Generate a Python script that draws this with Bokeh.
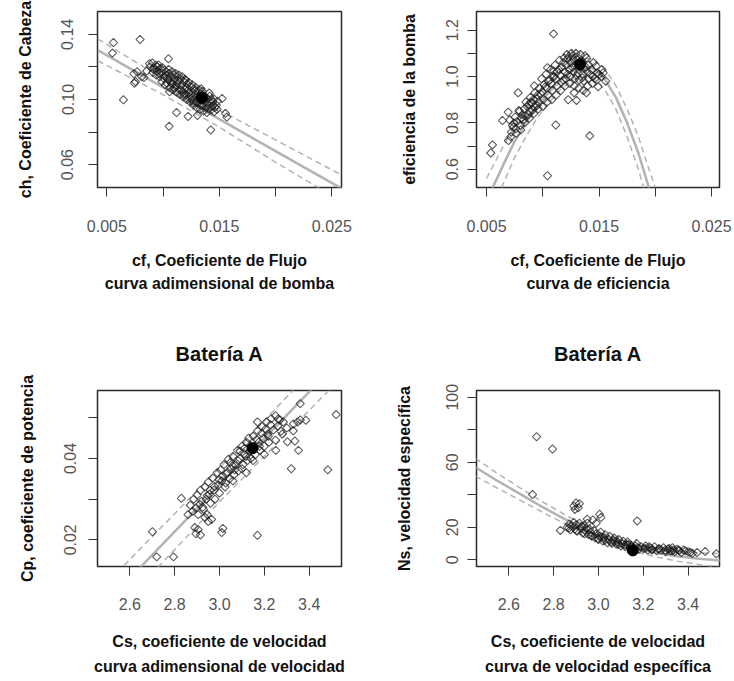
import math
from bokeh.plotting import figure
from bokeh.layouts import column, row
from bokeh.models import FixedTicker, Range1d, LinearAxis
from bokeh.embed import file_html
from bokeh.resources import INLINE

# ---------------- data ----------------
# Panel 1: head coefficient vs flow coefficient
cf_head = [
    0.00559, 0.00796, 0.00550, 0.00648, 0.00740, 0.00770, 0.00745, 0.00755, 0.00830, 0.00810,
    0.00855, 0.01048, 0.01054, 0.01120, 0.01223, 0.01306, 0.01424, 0.01525, 0.01567, 0.01555,
    0.00880, 0.00885, 0.00905, 0.00915, 0.00910, 0.00935, 0.00945, 0.00940, 0.00950, 0.00965,
    0.00975, 0.00970, 0.00985, 0.00995, 0.01005, 0.00990, 0.01010, 0.01025, 0.01035, 0.01030,
    0.01040, 0.01020, 0.01055, 0.01065, 0.01060, 0.01070, 0.01050, 0.01085, 0.01095, 0.01090,
    0.01100, 0.01080, 0.01115, 0.01125, 0.01120, 0.01130, 0.01110, 0.01145, 0.01155, 0.01150,
    0.01160, 0.01140, 0.01175, 0.01185, 0.01180, 0.01190, 0.01170, 0.01205, 0.01215, 0.01210,
    0.01220, 0.01200, 0.01235, 0.01245, 0.01240, 0.01250, 0.01230, 0.01265, 0.01275, 0.01270,
    0.01280, 0.01260, 0.01295, 0.01305, 0.01300, 0.01310, 0.01290, 0.01325, 0.01335, 0.01330,
    0.01340, 0.01320, 0.01355, 0.01365, 0.01360, 0.01370, 0.01350, 0.01385, 0.01395, 0.01390,
    0.01400, 0.01415, 0.01425, 0.01420, 0.01430, 0.01410, 0.01445, 0.01455, 0.01450, 0.01440,
    0.01475, 0.01485, 0.01480,
    0.00920, 0.00960, 0.01012, 0.01047, 0.01078, 0.01103, 0.01133, 0.01163, 0.01187, 0.01212,
    0.01228, 0.01256, 0.01283, 0.01302, 0.01318, 0.01347, 0.01372, 0.01402, 0.01433, 0.01462,
    0.01117, 0.01058, 0.01194, 0.01338, 0.01268,
]
ch_head = [
    0.1350, 0.1369, 0.1285, 0.0998, 0.1158, 0.1170, 0.1100, 0.1110, 0.1135, 0.1140,
    0.1175, 0.1250, 0.0835, 0.0920, 0.0896, 0.0902, 0.0813, 0.1006, 0.0892, 0.0915,
    0.1220, 0.1200, 0.1225, 0.1185, 0.1165, 0.1210, 0.1175, 0.1150, 0.1200, 0.1160,
    0.1190, 0.1140, 0.1165, 0.1195, 0.1130, 0.1110, 0.1180, 0.1150, 0.1100, 0.1170,
    0.1130, 0.1090, 0.1160, 0.1110, 0.1075, 0.1140, 0.1185, 0.1095, 0.1150, 0.1060,
    0.1125, 0.1170, 0.1080, 0.1140, 0.1045, 0.1100, 0.1160, 0.1060, 0.1125, 0.1030,
    0.1085, 0.1150, 0.1045, 0.1110, 0.1015, 0.1065, 0.1140, 0.1030, 0.1095, 0.1000,
    0.1055, 0.1120, 0.1015, 0.1080, 0.0985, 0.1035, 0.1105, 0.0995, 0.1065, 0.0965,
    0.1025, 0.1090, 0.0985, 0.1050, 0.0950, 0.1005, 0.1075, 0.0970, 0.1035, 0.0940,
    0.0995, 0.1060, 0.0960, 0.1025, 0.0930, 0.0985, 0.1050, 0.0950, 0.1005, 0.0920,
    0.0970, 0.1020, 0.0935, 0.0990, 0.0955, 0.1040, 0.0985, 0.0925, 0.1005, 0.0960,
    0.0965, 0.0990, 0.0940,
    0.1195, 0.1212, 0.1142, 0.1122, 0.1098, 0.1071, 0.1117, 0.1058, 0.1032, 0.1072,
    0.1041, 0.1011, 0.1052, 0.0982, 0.1022, 0.0968, 0.1012, 0.0945, 0.0998, 0.0952,
    0.1089, 0.1047, 0.1124, 0.1066, 0.0978,
]
best_cf_head = [0.01345]
best_ch = [0.1010]
fit_cf_head = [0.0042, 0.0100, 0.0150, 0.0200, 0.0259]
fit_ch = [0.1303, 0.1075, 0.0879, 0.0683, 0.0452]
fit_ch_up = [0.1372, 0.1128, 0.0935, 0.0752, 0.0535]
fit_ch_lo = [0.1238, 0.1030, 0.0830, 0.0615, 0.0372]

# Panel 2: pump efficiency vs flow coefficient
cf_eff = [
    0.01096, 0.01042, 0.01116, 0.01418, 0.00553, 0.00538, 0.00642, 0.00693, 0.00707, 0.00737,
    0.00695, 0.00781, 0.00787, 0.00894, 0.01226, 0.01300, 0.01279, 0.01388, 0.01492, 0.01560,
    0.01537, 0.01099, 0.01042,
    0.00720, 0.00730, 0.00715, 0.00760, 0.00770, 0.00755, 0.00765, 0.00800, 0.00810, 0.00795,
    0.00805, 0.00840, 0.00845, 0.00835, 0.00850, 0.00830, 0.00880, 0.00885, 0.00875, 0.00890,
    0.00870, 0.00920, 0.00925, 0.00915, 0.00930, 0.00910, 0.00960, 0.00965, 0.00955, 0.00970,
    0.00950, 0.01000, 0.01005, 0.00995, 0.01010, 0.00990, 0.01040, 0.01045, 0.01035, 0.01050,
    0.01030, 0.01080, 0.01085, 0.01075, 0.01090, 0.01070, 0.01120, 0.01125, 0.01115, 0.01130,
    0.01110, 0.01160, 0.01165, 0.01155, 0.01170, 0.01150, 0.01200, 0.01205, 0.01195, 0.01210,
    0.01190, 0.01215, 0.01240, 0.01245, 0.01235, 0.01250, 0.01230, 0.01255, 0.01280, 0.01285,
    0.01275, 0.01290, 0.01270, 0.01295, 0.01320, 0.01325, 0.01315, 0.01330, 0.01310, 0.01335,
    0.01360, 0.01365, 0.01355, 0.01370, 0.01350, 0.01375, 0.01400, 0.01405, 0.01395, 0.01410,
    0.01390, 0.01440, 0.01445, 0.01435, 0.01450, 0.01480, 0.01485, 0.01475, 0.01520, 0.01525,
    0.00745, 0.00818, 0.00862, 0.00903, 0.00942, 0.00983, 0.01022, 0.01063, 0.01102, 0.01142,
    0.01183, 0.01222, 0.01262, 0.01302, 0.01342, 0.01382, 0.01422, 0.01462, 0.01262, 0.01222,
    0.01182, 0.01302, 0.01352, 0.01502, 0.00925,
]
eff = [
    1.184, 0.572, 0.791, 0.744, 0.705, 0.670, 0.810, 0.846, 0.812, 0.781,
    0.724, 0.930, 0.853, 0.888, 0.900, 0.897, 0.930, 0.930, 0.956, 0.980,
    1.016, 1.023, 1.038,
    0.760, 0.790, 0.740, 0.775, 0.805, 0.825, 0.755, 0.790, 0.820, 0.850,
    0.770, 0.800, 0.830, 0.860, 0.890, 0.815, 0.820, 0.850, 0.880, 0.910,
    0.835, 0.840, 0.870, 0.900, 0.930, 0.855, 0.860, 0.890, 0.920, 0.950,
    0.875, 0.870, 0.900, 0.935, 0.965, 0.990, 0.890, 0.920, 0.950, 0.980,
    1.010, 0.900, 0.940, 0.970, 1.000, 1.030, 0.920, 0.960, 0.990, 1.020,
    1.050, 0.940, 0.975, 1.005, 1.040, 1.070, 0.960, 0.990, 1.020, 1.050,
    1.080, 1.095, 0.970, 1.000, 1.030, 1.060, 1.085, 1.100, 0.960, 0.990,
    1.020, 1.050, 1.075, 1.100, 0.950, 0.985, 1.015, 1.040, 1.070, 1.095,
    0.940, 0.980, 1.010, 1.035, 1.065, 1.090, 0.960, 0.990, 1.020, 1.050,
    1.080, 0.970, 1.000, 1.030, 1.060, 0.985, 1.015, 1.045, 1.000, 1.030,
    0.800, 0.835, 0.870, 0.885, 0.905, 0.925, 0.955, 0.985, 1.000, 1.030,
    1.060, 1.075, 1.090, 1.085, 1.060, 1.040, 1.010, 0.990, 1.040, 1.010,
    0.985, 1.005, 0.995, 1.010, 0.960,
]
best_cf_eff = [0.01331]
best_eff = [1.052]
fit_cf_eff = [0.0050, 0.0056, 0.0065, 0.0075, 0.0085, 0.0095, 0.0105, 0.0115, 0.0125,
              0.0135, 0.0145, 0.0155, 0.0165, 0.0175, 0.0185, 0.0194, 0.0200]
fit_eff = [0.460, 0.526, 0.620, 0.720, 0.800, 0.870, 0.930, 0.980, 1.020,
           1.040, 1.035, 0.990, 0.910, 0.800, 0.670, 0.526, 0.430]
fit_eff_up = [0.560, 0.616, 0.700, 0.790, 0.860, 0.920, 0.975, 1.020, 1.060,
              1.080, 1.075, 1.035, 0.960, 0.860, 0.740, 0.606, 0.520]
fit_eff_lo = [0.360, 0.436, 0.540, 0.650, 0.740, 0.820, 0.885, 0.940, 0.980,
              1.000, 0.995, 0.945, 0.860, 0.740, 0.600, 0.446, 0.340]

# Panel 3: power coefficient vs speed coefficient
cs_pow = [
    3.520, 3.360, 3.169, 3.274, 3.329, 3.348, 3.385, 3.303, 3.336, 3.352,
    3.251, 3.320, 3.483, 3.169, 2.830, 2.701, 2.720, 2.795, 2.895, 2.905,
    2.915, 2.890, 3.010, 3.015, 2.935, 2.950, 2.965, 2.945,
    2.860, 2.870, 2.880, 2.885, 2.895, 2.900, 2.905, 2.915, 2.920, 2.925,
    2.935, 2.940, 2.950, 2.955, 2.960, 2.970, 2.975, 2.980, 2.990, 2.995,
    3.000, 3.005, 3.010, 3.020, 3.025, 3.030, 3.040, 3.045, 3.050, 3.060,
    3.065, 3.070, 3.080, 3.085, 3.090, 3.100, 3.105, 3.110, 3.120, 3.125,
    3.130, 3.135, 3.140, 3.150, 3.155, 3.160, 3.170, 3.175, 3.180, 3.190,
    3.195, 3.200, 3.210, 3.215, 3.220, 3.230, 3.240, 3.250, 3.260, 3.270,
    3.100, 3.150, 3.200, 3.250, 3.280, 3.300, 3.330, 3.360, 3.060, 3.120,
    2.912, 2.946, 2.978, 3.012, 3.036, 3.058, 3.082, 3.112, 3.138, 3.166,
    3.188, 3.206, 3.228, 3.262, 3.092, 3.048, 2.998, 2.958, 3.178, 3.218,
    3.118, 2.928, 3.028, 3.068, 3.285,
]
cp = [
    0.0508, 0.0535, 0.0490, 0.0467, 0.0468, 0.0490, 0.0494, 0.0441, 0.0443, 0.0420,
    0.0420, 0.0375, 0.0372, 0.0211, 0.0302, 0.0220, 0.0158, 0.0158, 0.0215, 0.0225,
    0.0212, 0.0230, 0.0218, 0.0228, 0.0255, 0.0245, 0.0250, 0.0262,
    0.0262, 0.0285, 0.0270, 0.0300, 0.0278, 0.0310, 0.0262, 0.0322, 0.0295, 0.0280,
    0.0330, 0.0300, 0.0342, 0.0312, 0.0290, 0.0352, 0.0322, 0.0300, 0.0365, 0.0335,
    0.0315, 0.0372, 0.0345, 0.0385, 0.0330, 0.0362, 0.0398, 0.0350, 0.0375, 0.0405,
    0.0360, 0.0385, 0.0420, 0.0370, 0.0400, 0.0430, 0.0385, 0.0412, 0.0440, 0.0395,
    0.0450, 0.0418, 0.0400, 0.0455, 0.0430, 0.0410, 0.0468, 0.0440, 0.0420, 0.0478,
    0.0450, 0.0430, 0.0490, 0.0460, 0.0440, 0.0498, 0.0470, 0.0505, 0.0480, 0.0495,
    0.0375, 0.0395, 0.0410, 0.0445, 0.0460, 0.0475, 0.0485, 0.0495, 0.0345, 0.0365,
    0.0287, 0.0309, 0.0331, 0.0356, 0.0366, 0.0382, 0.0395, 0.0425, 0.0432, 0.0447,
    0.0462, 0.0472, 0.0483, 0.0497, 0.0418, 0.0390, 0.0348, 0.0322, 0.0430, 0.0455,
    0.0405, 0.0275, 0.0340, 0.0372, 0.0490,
]
best_cs_pow = [3.147]
best_cp = [0.0425]
fit_cs_pow = [2.45, 3.00, 3.55]
fit_cp = [0.0019, 0.0335, 0.0650]
fit_cp_up = [0.0067, 0.0377, 0.0697]
fit_cp_lo = [-0.0029, 0.0293, 0.0603]

# Panel 4: specific speed vs speed coefficient
cs_ns = [
    2.724, 2.795, 2.706, 2.830, 3.173, 3.011, 3.005, 2.890, 2.900, 2.915,
    2.895, 2.910, 3.476, 3.526, 2.975, 2.990, 2.950,
    2.860, 2.870, 2.875, 2.880, 2.890, 2.895, 2.900, 2.905, 2.915, 2.920,
    2.930, 2.935, 2.940, 2.950, 2.955, 2.960, 2.965, 2.970, 2.980, 2.985,
    2.990, 3.000, 3.005, 3.010, 3.020, 3.025, 3.030, 3.040, 3.045, 3.050,
    3.060, 3.065, 3.070, 3.080, 3.085, 3.090, 3.100, 3.105, 3.110, 3.120,
    3.125, 3.130, 3.140, 3.145, 3.160, 3.165, 3.170, 3.180, 3.190, 3.200,
    3.210, 3.220, 3.230, 3.240, 3.250, 3.260, 3.270, 3.280, 3.290, 3.300,
    3.310, 3.320, 3.330, 3.335, 3.340, 3.350, 3.360, 3.370, 3.380, 3.400,
    3.410, 3.420, 3.440,
    2.868, 2.902, 2.938, 2.968, 2.998, 3.028, 3.058, 3.088, 3.118, 3.148,
    3.178, 3.208, 3.238, 3.268, 3.298, 3.328, 3.358, 3.388, 2.925, 2.945,
    3.015, 3.075, 3.135, 3.225, 3.315,
]
ns = [
    75.7, 68.1, 40.1, 18.1, 23.9, 26.0, 28.0, 33.0, 35.0, 34.5,
    31.0, 32.0, 5.1, 3.7, 24.5, 22.5, 25.0,
    20.0, 22.0, 18.5, 21.0, 23.0, 19.0, 21.5, 17.5, 22.5, 19.5,
    16.5, 21.0, 18.0, 22.5, 15.5, 19.0, 17.0, 14.5, 18.0, 13.5,
    16.0, 12.5, 14.5, 17.0, 11.5, 13.5, 15.5, 10.5, 12.5, 14.5,
    10.0, 12.0, 13.5, 9.5, 11.0, 12.5, 8.5, 10.0, 11.5, 8.0,
    9.5, 11.0, 7.5, 9.0, 7.0, 8.5, 10.0, 6.5, 8.0, 7.0,
    8.5, 6.0, 7.5, 6.5, 8.0, 5.5, 7.0, 6.0, 7.5, 5.0,
    6.5, 5.5, 7.5, 6.0, 5.0, 6.5, 5.5, 4.5, 6.0, 5.0,
    4.5, 4.0, 4.5,
    19.5, 18.0, 16.0, 15.0, 13.0, 12.0, 11.0, 9.5, 9.0, 8.0,
    7.5, 7.0, 6.0, 6.5, 6.0, 5.5, 6.0, 5.5, 20.5, 19.5,
    14.0, 11.5, 9.5, 8.0, 7.0,
]
best_cs_ns = [3.153]
best_ns = [5.8]
fit_cs_ns = [2.45, 2.55, 2.65, 2.75, 2.85, 2.95, 3.05, 3.15, 3.25, 3.35, 3.45, 3.55]
fit_ns = [57.0, 48.5, 40.5, 32.5, 25.0, 18.0, 12.5, 7.8, 4.5, 2.2, 0.7, -0.5]
fit_ns_up = [62.5, 53.0, 44.3, 35.7, 27.8, 20.5, 14.8, 10.1, 7.0, 5.2, 4.3, 3.8]
fit_ns_lo = [51.5, 44.0, 36.7, 29.3, 22.2, 15.5, 10.2, 5.5, 2.0, -0.8, -2.9, -4.8]

# tick values / labels
x_ticks_cf = [0.005, 0.015, 0.025]
x_labels_cf = ["0.005", "0.015", "0.025"]
x_minor_cf = [0.010, 0.020]
y_ticks_ch = [0.06, 0.10, 0.14]
y_labels_ch = ["0.06", "0.10", "0.14"]
y_minor_ch = [0.08, 0.12]
y_ticks_eff = [0.6, 0.8, 1.0, 1.2]
y_labels_eff = ["0.6", "0.8", "1.0", "1.2"]
y_minor_eff = [0.7, 0.9, 1.1]
x_ticks_cs = [2.6, 2.8, 3.0, 3.2, 3.4]
x_labels_cs = ["2.6", "2.8", "3.0", "3.2", "3.4"]
y_ticks_cp = [0.02, 0.04]
y_labels_cp = ["0.02", "0.04"]
y_minor_cp = [0.03, 0.05]
y_ticks_ns = [0, 20, 60, 100]
y_labels_ns = ["0", "20", "60", "100"]
y_minor_ns = [40, 80]

panel_title = "Batería A"

# ---------------- styling ----------------
LAB_FONT = "'Liberation Sans', Arial, sans-serif"
TICK_FONT = "'Liberation Sans', Arial, sans-serif"
LINE_C = "#b3b3b3"


def make_panel(w, h, borders, xr, yr, xt, xl, xminor, yt, yl, yminor,
               xlabel, ylabel, ystand, ylabstand, xstand, xlabstand, lh, title=None):
    p = figure(width=w, height=h, x_range=Range1d(*xr), y_range=Range1d(*yr),
               output_backend="svg", toolbar_location=None,
               min_border_left=borders[0], min_border_right=borders[1],
               min_border_top=borders[2], min_border_bottom=borders[3])
    p.background_fill_color = "white"
    p.border_fill_color = "white"
    p.outline_line_color = "#2a2a2a"
    p.outline_line_width = 1.5
    p.xgrid.visible = False
    p.ygrid.visible = False
    p.xaxis.ticker = FixedTicker(ticks=xt, minor_ticks=xminor)
    p.yaxis.ticker = FixedTicker(ticks=yt, minor_ticks=yminor)
    p.xaxis.major_label_overrides = dict(zip(xt, xl))
    p.yaxis.major_label_overrides = dict(zip(yt, yl))
    for ax in (p.xaxis, p.yaxis):
        ax.axis_line_color = None
        ax.major_tick_in = 0
        ax.major_tick_out = 9
        ax.minor_tick_in = 0
        ax.minor_tick_out = 9
        ax.major_tick_line_color = "#333333"
        ax.minor_tick_line_color = "#333333"
        ax.major_tick_line_width = 1
        ax.minor_tick_line_width = 1
        ax.major_label_text_font = TICK_FONT
        ax.major_label_text_font_size = "16px"
        ax.major_label_text_color = "#555555"
        ax.axis_label_text_font = LAB_FONT
        ax.axis_label_text_font_size = "16px"
        ax.axis_label_text_font_style = "bold"
        ax.axis_label_text_color = "#111111"
        ax.axis_label_text_line_height = lh
    p.yaxis.major_label_orientation = "parallel"
    p.xaxis.axis_label = xlabel
    p.yaxis.axis_label = ylabel
    p.yaxis.major_label_standoff = ystand
    p.yaxis.axis_label_standoff = ylabstand
    p.xaxis.major_label_standoff = xstand
    p.xaxis.axis_label_standoff = xlabstand
    if title:
        tax = LinearAxis(ticker=FixedTicker(ticks=[]), axis_label=title,
                         axis_line_color=None, major_tick_out=0, major_tick_in=0,
                         minor_tick_out=0, minor_tick_in=0, major_label_standoff=0,
                         axis_label_standoff=26,
                         axis_label_text_font=LAB_FONT, axis_label_text_font_size="20px",
                         axis_label_text_font_style="bold", axis_label_text_color="#111111")
        p.add_layout(tax, "above")
    return p


def add_data(p, x, y, bx, by, fx, fy, fu, fl):
    p.line(fx, fu, line_color=LINE_C, line_width=1.5, line_dash="6 4")
    p.line(fx, fl, line_color=LINE_C, line_width=1.5, line_dash="6 4")
    p.line(fx, fy, line_color=LINE_C, line_width=2.5)
    p.scatter(x, y, marker="square", size=5.8, angle=math.pi / 4,
              fill_color=None, line_color="#1a1a1a", line_alpha=0.7, line_width=1.1)
    p.scatter(bx, by, marker="circle", size=11, fill_color="black", line_color="black")


p1 = make_panel(367, 330, (97, 26, 11, 142),
                (0.004173, 0.025862), (0.04595, 0.15405),
                x_ticks_cf, x_labels_cf, x_minor_cf, y_ticks_ch, y_labels_ch, y_minor_ch,
                "cf, Coeficiente de Flujo\ncurva adimensional de bomba",
                "ch, Coeficiente de Cabeza", 15, 25, 23, 17, 1.4)
add_data(p1, cf_head, ch_head, best_cf_head, best_ch, fit_cf_head, fit_ch, fit_ch_up, fit_ch_lo)

p2 = make_panel(367, 330, (109, 15, 11, 143),
                (0.00411, 0.02571), (0.5212, 1.2805),
                x_ticks_cf, x_labels_cf, x_minor_cf, y_ticks_eff, y_labels_eff, y_minor_eff,
                "cf, Coeficiente de Flujo\ncurva de eficiencia",
                "eficiencia de la bomba", 9, 26, 23, 17, 1.4)
add_data(p2, cf_eff, eff, best_cf_eff, best_eff, fit_cf_eff, fit_eff, fit_eff_up, fit_eff_lo)

p3 = make_panel(367, 351, (97, 26, 60, 115),
                (2.456, 3.544), (0.01343, 0.05673),
                x_ticks_cs, x_labels_cs, [], y_ticks_cp, y_labels_cp, y_minor_cp,
                "Cs, coeficiente de velocidad\ncurva adimensional de velocidad",
                "Cp, coeficiente de potencia", 12, 26, 22, 20, 1.5, title=panel_title)
add_data(p3, cs_pow, cp, best_cs_pow, best_cp, fit_cs_pow, fit_cp, fit_cp_up, fit_cp_lo)

p4 = make_panel(367, 351, (109, 15, 60, 115),
                (2.456, 3.540), (-4.1, 104.1),
                x_ticks_cs, x_labels_cs, [], y_ticks_ns, y_labels_ns, y_minor_ns,
                "Cs, coeficiente de velocidad\ncurva de velocidad específica",
                "Ns, velocidad específica", 9, 31, 22, 20, 1.5, title=panel_title)
add_data(p4, cs_ns, ns, best_cs_ns, best_ns, fit_cs_ns, fit_ns, fit_ns_up, fit_ns_lo)

layout = column(row(p1, p2), row(p3, p4))
open("out.html", "w").write(file_html(layout, INLINE))
